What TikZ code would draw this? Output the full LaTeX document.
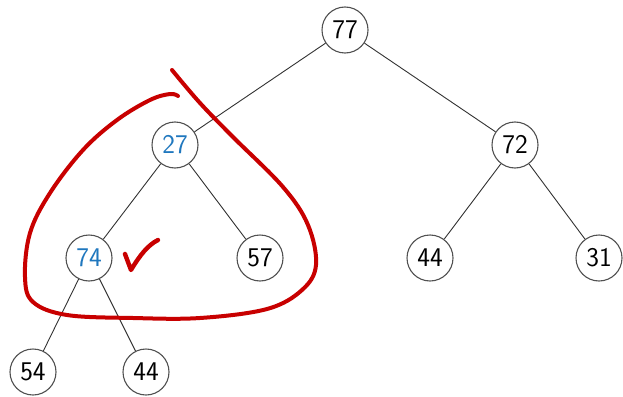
\documentclass[tikz,border=0pt]{standalone}
\definecolor{nodeblue}{RGB}{31,119,190}
\definecolor{markred}{RGB}{200,0,0}
\definecolor{edgegray}{RGB}{50,50,50}
\begin{document}
\begin{tikzpicture}[x=1pt,y=-1pt,
  tnode/.style={circle,draw=edgegray!85,line width=1.1pt,fill=white,minimum size=46pt,inner sep=0pt,
    font=\sffamily\fontsize{27}{30}\selectfont},
  bluetext/.style={text=nodeblue},
  edge/.style={draw=edgegray,line width=0.9pt},
  redmark/.style={draw=markred,line width=4pt,line cap=round,line join=round}]
\useasboundingbox (0,0) rectangle (623,396);
\node[tnode] (n77) at (345,30) {77};
\node[tnode,bluetext] (n27) at (175,145) {27};
\node[tnode] (n72) at (515,145) {72};
\node[tnode,bluetext] (n74) at (89,258) {74};
\node[tnode] (n57) at (260,258) {57};
\node[tnode] (n44a) at (430,258) {44};
\node[tnode] (n31) at (599,258) {31};
\node[tnode] (n54) at (33,372) {54};
\node[tnode] (n44b) at (146,372) {44};
\draw[edge] (n77) -- (n27);
\draw[edge] (n77) -- (n72);
\draw[edge] (n27) -- (n74);
\draw[edge] (n27) -- (n57);
\draw[edge] (n72) -- (n44a);
\draw[edge] (n72) -- (n31);
\draw[edge] (n74) -- (n54);
\draw[edge] (n74) -- (n44b);
\draw[redmark] plot[smooth,tension=0.6] coordinates {(172,70) (200,103) (233,137) (283,187) (308,225) (316,265) (302,290) (267,309) (200,318) (133,318) (67,315) (33,302) (25,277) (30,233) (50,193) (83,150) (117,120) (150,100) (170,94) (178,96)};
\draw[redmark,line width=4.4pt] (125,254) -- (131,270) .. controls (140,255) and (148,245) .. (158,240);
\end{tikzpicture}
\end{document}
